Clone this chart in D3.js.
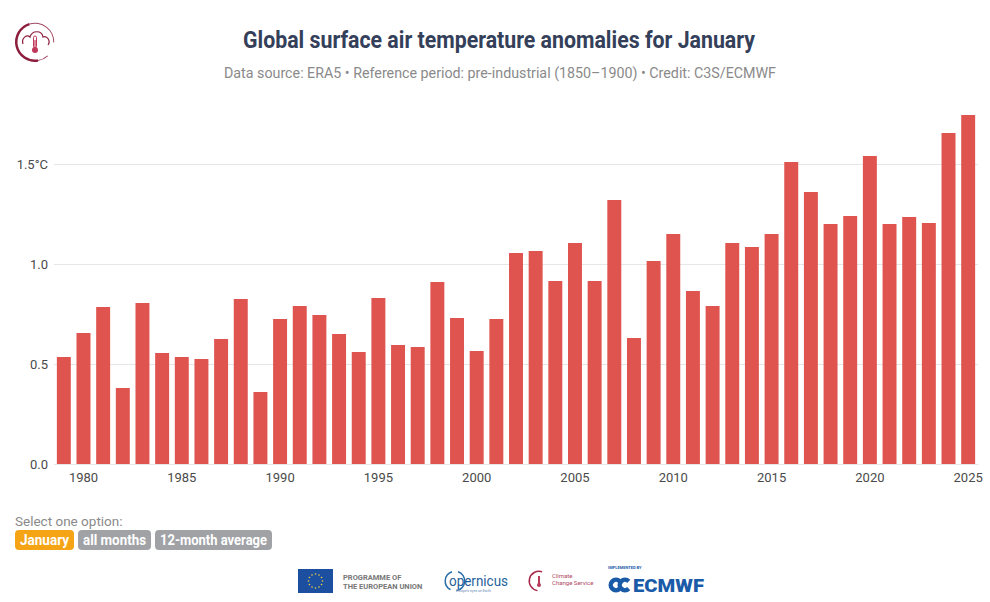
<!DOCTYPE html>
<html>
<head>
<meta charset="utf-8">
<script src="https://cdn.jsdelivr.net/npm/d3@7"></script>
<style>
  html, body { margin: 0; padding: 0; background: #fff; }
  svg { display: block; font-family: Roboto, "Noto Sans", sans-serif; }
</style>
</head>
<body>
<svg id="chart" width="990" height="602"></svg>
<script>
// ---- Data ----
const years = d3.range(1979, 2026);
const anomalies = [
  0.535, 0.655, 0.785, 0.38, 0.805, 0.555, 0.535, 0.525, 0.625, 0.825,
  0.36, 0.725, 0.79, 0.745, 0.65, 0.56, 0.83, 0.595, 0.585, 0.91,
  0.73, 0.565, 0.725, 1.055, 1.065, 0.915, 1.105, 0.915, 1.32, 0.63,
  1.015, 1.15, 0.865, 0.79, 1.105, 1.085, 1.15, 1.51, 1.36, 1.2,
  1.24, 1.54, 1.2, 1.235, 1.205, 1.655, 1.745
];
const xTickYears = [1980, 1985, 1990, 1995, 2000, 2005, 2010, 2015, 2020, 2025];
const yTicks = [0, 0.5, 1.0, 1.5];
const yTickLabels = ["0.0", "0.5", "1.0", "1.5°C"];
const options = ["January", "all months", "12-month average"];

const titleText = "Global surface air temperature anomalies for January";
const subtitleText = "Data source: ERA5 • Reference period: pre-industrial (1850–1900) • Credit: C3S/ECMWF";

// ---- Layout ----
const svg = d3.select("#chart");
const plot = { left: 54, right: 978, top: 100, bottom: 464 };

const x = d3.scaleBand().domain(years).range([plot.left, plot.right])
  .paddingInner(0.29).paddingOuter(0.145);
const y = d3.scaleLinear().domain([0, 1.82]).range([plot.bottom, plot.bottom - 1.82 * 200]);

// Title / subtitle
svg.append("text").attr("x", 499).attr("y", 48).attr("text-anchor", "middle")
  .attr("font-size", 23).attr("font-weight", 700).attr("fill", "#34405a")
  .attr("textLength", 512).attr("lengthAdjust", "spacingAndGlyphs")
  .text(titleText);
svg.append("text").attr("x", 500).attr("y", 78).attr("text-anchor", "middle")
  .attr("font-size", 15.5).attr("fill", "#8a8a8a")
  .attr("textLength", 552).attr("lengthAdjust", "spacingAndGlyphs")
  .text(subtitleText);

// Gridlines
const yAxis = d3.axisLeft(y).tickValues(yTicks).tickSize(-(plot.right - plot.left))
  .tickFormat((d, i) => yTickLabels[i]);
const gy = svg.append("g").attr("transform", `translate(${plot.left},0)`).call(yAxis);
gy.select(".domain").remove();
gy.selectAll(".tick line").attr("stroke", "#e6e6e6").attr("stroke-width", 1);
gy.selectAll(".tick text").attr("x", -6).attr("font-size", 13).attr("fill", "#4a4a4a")
  .attr("font-family", "Roboto, sans-serif");

// Bars
svg.append("g").selectAll("rect").data(years).join("rect")
  .attr("x", d => x(d))
  .attr("width", x.bandwidth())
  .attr("y", (d, i) => y(anomalies[i]))
  .attr("height", (d, i) => y(0) - y(anomalies[i]))
  .attr("fill", "#e05450");

// X axis
const xAxis = d3.axisBottom(x).tickValues(xTickYears).tickSize(0).tickPadding(9);
const gx = svg.append("g").attr("transform", `translate(0,${plot.bottom})`).call(xAxis);
gx.select(".domain").attr("stroke", "#e6e6e6");
gx.selectAll(".tick text").attr("font-size", 13).attr("fill", "#4a4a4a")
  .attr("font-family", "Roboto, sans-serif");

// Option buttons
svg.append("text").attr("x", 15).attr("y", 526).attr("font-size", 13.5).attr("fill", "#8a8a8a")
  .text("Select one option:");
const btnX = [15, 78, 155];
const btnW = [59, 73, 117];
const btn = svg.append("g").selectAll("g").data(options).join("g")
  .attr("transform", (d, i) => `translate(${btnX[i]},530)`);
btn.append("rect").attr("width", (d, i) => btnW[i]).attr("height", 20).attr("rx", 4)
  .attr("fill", (d, i) => i === 0 ? "#f5a415" : "#a0a2a6");
btn.append("text").attr("x", (d, i) => btnW[i] / 2).attr("y", 15).attr("text-anchor", "middle")
  .attr("font-size", 14).attr("font-weight", 700).attr("fill", "#fff")
  .attr("textLength", (d, i) => btnW[i] - 10).attr("lengthAdjust", "spacingAndGlyphs")
  .text(d => d);

// Top-left logo
const logo = svg.append("g").attr("transform", "translate(35,42)");
const arcGen = d3.arc();
logo.append("path").attr("d", arcGen({innerRadius: 17.5, outerRadius: 20, startAngle: -0.3, endAngle: -Math.PI * 1.05}))
  .attr("fill", "#8c1d3c");
logo.append("path").attr("d", arcGen({innerRadius: 18.3, outerRadius: 19.3, startAngle: -0.3, endAngle: 1.6}))
  .attr("fill", "#8c1d3c").attr("opacity", 0.8);
logo.append("path").attr("d", arcGen({innerRadius: 18.3, outerRadius: 19.3, startAngle: Math.PI * 0.95, endAngle: 2.4}))
  .attr("fill", "#8c1d3c").attr("opacity", 0.8);
logo.append("path")
  .attr("d", "M-12,2 C-14,-4 -8,-8 -5,-5 C-3,-12 7,-12 8,-5 C12,-7 16,-1 13,3")
  .attr("fill", "none").attr("stroke", "#8c1d3c").attr("stroke-width", 1.2);
logo.append("rect").attr("x", -1.5).attr("y", -6).attr("width", 3).attr("height", 12).attr("rx", 1.5)
  .attr("fill", "none").attr("stroke", "#c0395a").attr("stroke-width", 1);
logo.append("circle").attr("cx", 0).attr("cy", 8).attr("r", 3).attr("fill", "#c0395a");
logo.append("rect").attr("x", -0.6).attr("y", -2).attr("width", 1.2).attr("height", 9).attr("fill", "#c0395a");

// Footer logos
const foot = svg.append("g");
foot.append("rect").attr("x", 298).attr("y", 569).attr("width", 35).attr("height", 24).attr("fill", "#1c4fa0");
d3.range(12).forEach(k => {
  const a = k / 12 * 2 * Math.PI;
  foot.append("circle").attr("cx", 315.5 + 7 * Math.cos(a)).attr("cy", 581 + 7 * Math.sin(a))
    .attr("r", 0.8).attr("fill", "#f4d03f");
});
foot.append("text").attr("x", 343).attr("y", 580).attr("font-size", 7.5).attr("font-weight", 700)
  .attr("fill", "#777").text("PROGRAMME OF");
foot.append("text").attr("x", 343).attr("y", 589).attr("font-size", 7.5).attr("font-weight", 700)
  .attr("fill", "#777").text("THE EUROPEAN UNION");
// Copernicus
foot.append("path").attr("d", arcGen({innerRadius: 9, outerRadius: 10.5, startAngle: Math.PI * 0.1, endAngle: Math.PI * 0.95}))
  .attr("transform", "translate(455,581)").attr("fill", "#2b6ea8");
foot.append("path").attr("d", arcGen({innerRadius: 9, outerRadius: 10.5, startAngle: Math.PI * 1.15, endAngle: Math.PI * 1.9}))
  .attr("transform", "translate(455,581)").attr("fill", "#2b6ea8");
foot.append("text").attr("x", 449).attr("y", 586).attr("font-size", 14).attr("fill", "#1f5f99")
  .attr("textLength", 59).attr("lengthAdjust", "spacingAndGlyphs").text("opernicus");
foot.append("text").attr("x", 456).attr("y", 592).attr("font-size", 3.5).attr("fill", "#6b8db5")
  .text("Europe's eyes on Earth");
// Climate change service
foot.append("path").attr("d", arcGen({innerRadius: 9, outerRadius: 10.5, startAngle: Math.PI * 1.05, endAngle: Math.PI * 2.1}))
  .attr("transform", "translate(539,581)").attr("fill", "#a8284b");
foot.append("rect").attr("x", 538).attr("y", 576).attr("width", 2).attr("height", 8).attr("fill", "#b8395a");
foot.append("circle").attr("cx", 539).attr("cy", 585).attr("r", 2).attr("fill", "#b8395a");
foot.append("text").attr("x", 552).attr("y", 578).attr("font-size", 6).attr("fill", "#b0485f").text("Climate");
foot.append("text").attr("x", 552).attr("y", 585).attr("font-size", 6).attr("fill", "#b0485f").text("Change Service");
// ECMWF
foot.append("text").attr("x", 608).attr("y", 569).attr("font-size", 4).attr("font-weight", 700)
  .attr("fill", "#1a5ba8").text("IMPLEMENTED BY");
[0, 1].forEach(k => {
  foot.append("path")
    .attr("d", arcGen({innerRadius: 3, outerRadius: 7.5, startAngle: Math.PI * 0.75, endAngle: Math.PI * 2.25}))
    .attr("transform", `translate(${616 + k * 9},585)`).attr("fill", "#1a5ba8");
});
foot.append("text").attr("x", 633).attr("y", 592).attr("font-size", 18).attr("font-weight", 900)
  .attr("fill", "#1a5ba8").attr("textLength", 71).attr("lengthAdjust", "spacingAndGlyphs").text("ECMWF");
</script>
</body>
</html>
